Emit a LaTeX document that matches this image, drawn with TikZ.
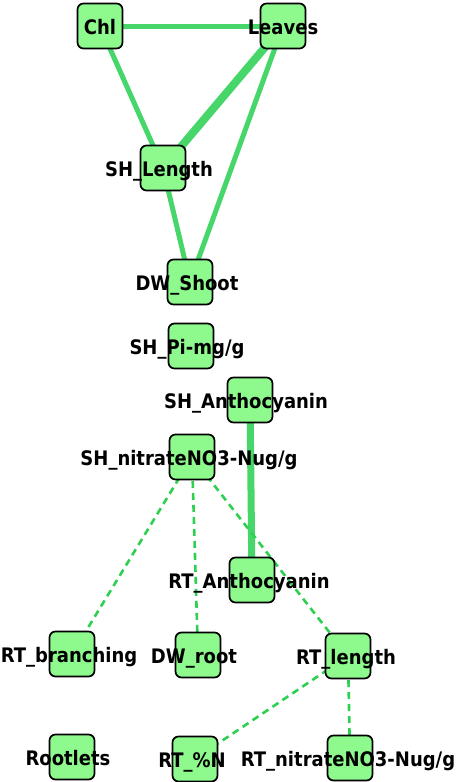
\documentclass[tikz,border=0pt]{standalone}
\usepackage{fontspec}
\newfontfamily\lblfont[FakeStretch=0.9]{DejaVu Sans Bold}
\usetikzlibrary{backgrounds}
\definecolor{edgegreen}{RGB}{70,214,105}
\definecolor{dashgreen}{RGB}{45,208,80}
\definecolor{boxgreen}{RGB}{142,250,142}
\tikzset{
  nbox/.style={draw=black, line width=1.7pt, fill=boxgreen, rounded corners=6pt, minimum width=45pt, minimum height=45pt, inner sep=0pt},
  lbl/.style={font=\lblfont\fontsize{20}{21}\selectfont, inner sep=0pt, text=black, anchor=base},
  solidedge/.style={draw=edgegreen, line width=#1},
  dashedge/.style={draw=dashgreen, line width=2.6pt, dash pattern=on 7pt off 5pt}
}
\begin{document}
\begin{tikzpicture}[x=1pt,y=-1pt]
\useasboundingbox (0,0) rectangle (459,782);
\foreach \n/\x/\y in {chl/100/26, leaves/283/26, shlen/163/168, dwshoot/190/282, shpi/191/346, shanth/250/400, shnit/192/457, rtanth/252/580, rtbr/72/654, dwroot/198/655, rtlen/348/656, rootlets/72/757, rtn/195/759, rtnit/350/758}
  \node[nbox] (\n) at (\x,\y) {};
\begin{scope}[on background layer]
\draw[solidedge=5pt] (chl.center) -- (leaves.center);
\draw[solidedge=5pt] (chl.center) -- (shlen.center);
\draw[solidedge=8pt] (leaves.center) -- (shlen.center);
\draw[solidedge=5pt] (leaves.center) -- (dwshoot.center);
\draw[solidedge=5pt] (shlen.center) -- (dwshoot.center);
\draw[solidedge=7pt] (shanth.center) -- (rtanth.center);
\draw[dashedge] (shnit.center) -- (rtbr.center);
\draw[dashedge] (shnit.center) -- (dwroot.center);
\draw[dashedge] (shnit.center) -- (rtlen.center);
\draw[dashedge] (rtlen.center) -- (rtn.center);
\draw[dashedge] (rtlen.center) -- (rtnit.center);
\end{scope}
\node[lbl] (tchl) at ([yshift=-8.5pt]chl.center) {Chl};
\node[lbl] (tleaves) at ([yshift=-8.5pt]leaves.center) {Leaves};
\node[lbl] (tshlen) at ([xshift=-4pt,yshift=-8.5pt]shlen.center) {SH\_Length};
\node[lbl] (tdwshoot) at ([xshift=-3pt,yshift=-8.5pt]dwshoot.center) {DW\_Shoot};
\node[lbl] (tshpi) at ([xshift=-4pt,yshift=-8.5pt]shpi.center) {SH\_Pi-mg/g};
\node[lbl] (tshanth) at ([xshift=-4pt,yshift=-8.5pt]shanth.center) {SH\_Anthocyanin};
\node[lbl] (tshnit) at ([xshift=-3pt,yshift=-8.5pt]shnit.center) {SH\_nitrateNO3-Nug/g};
\node[lbl] (trtanth) at ([xshift=-3pt,yshift=-8.5pt]rtanth.center) {RT\_Anthocyanin};
\node[lbl] (trtbr) at ([xshift=-3pt,yshift=-8.5pt]rtbr.center) {RT\_branching};
\node[lbl] (tdwroot) at ([xshift=-4pt,yshift=-8.5pt]dwroot.center) {DW\_root};
\node[lbl] (trtlen) at ([xshift=-2pt,yshift=-8.5pt]rtlen.center) {RT\_length};
\node[lbl] (trootlets) at ([xshift=-4pt,yshift=-8.5pt]rootlets.center) {Rootlets};
\node[lbl] (trtn) at ([xshift=-3pt,yshift=-8.5pt]rtn.center) {RT\_\%N};
\node[lbl] (trtnit) at ([xshift=-2pt,yshift=-8.5pt]rtnit.center) {RT\_nitrateNO3-Nug/g};
\end{tikzpicture}
\end{document}
